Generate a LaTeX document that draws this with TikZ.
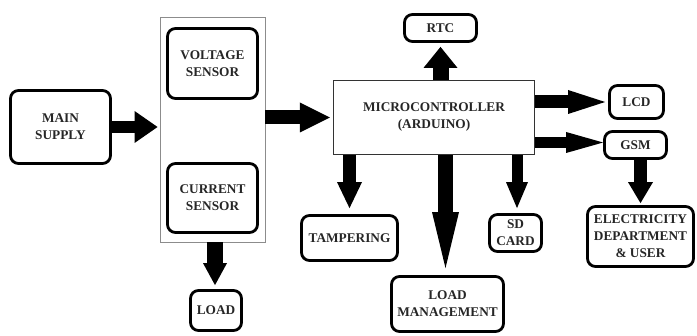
\documentclass[tikz,border=0pt]{standalone}
\usepackage{fontspec}
\setmainfont{Liberation Serif}
\usetikzlibrary{arrows.meta}
\begin{document}
\begin{tikzpicture}[x=1pt,y=-1pt,
  txt/.style={font=\bfseries\fontsize{13.3}{17}\selectfont, text=black!85, align=center, inner sep=0pt},
  rbox/.style={txt, draw=black, line width=2.8pt, rounded corners=8pt},
  mcubox/.style={txt, draw=black!80, line width=1.4pt},
  grpbox/.style={draw=black!45, line width=0.9pt, inner sep=0pt},
  barrow/.style={draw=black, line width=#1},
  tipa/.style n args={2}{-{Triangle[width=#1,length=#2,line width=0pt]}}
]
\useasboundingbox (0,0) rectangle (697,336);
% nodes
\node[rbox, minimum width=100pt, minimum height=73pt] (main) at (60.5,127) {MAIN\\SUPPLY};
\node[grpbox, minimum width=105pt, minimum height=225pt] (grp) at (212.5,129.5) {};
\node[rbox, minimum width=90pt, minimum height=70pt] (volt) at (212.5,63.5) {VOLTAGE\\SENSOR};
\node[rbox, minimum width=90pt, minimum height=69pt] (curr) at (212.5,198) {CURRENT\\SENSOR};
\node[rbox, minimum width=51pt, minimum height=40pt] (load) at (216,310.5) {LOAD};
\node[mcubox, minimum width=201pt, minimum height=74pt] (mcu) at (434,117.5) {MICROCONTROLLER\\(ARDUINO)};
\node[rbox, minimum width=72pt, minimum height=27pt] (rtc) at (440.5,28) {RTC};
\node[rbox, minimum width=54pt, minimum height=33pt] (lcd) at (636.5,102) {LCD};
\node[rbox, minimum width=62pt, minimum height=27pt] (gsm) at (635.5,145) {GSM};
\node[rbox, minimum width=106pt, minimum height=60pt] (elec) at (640.5,236.5) {ELECTRICITY\\DEPARTMENT\\\& USER};
\node[rbox, minimum width=96pt, minimum height=45pt] (tamp) at (349.5,238) {TAMPERING};
\node[rbox, minimum width=112pt, minimum height=55pt] (lm) at (447.5,304) {LOAD\\MANAGEMENT};
\node[rbox, minimum width=52pt, minimum height=37pt] (sd) at (515.5,233) {SD\\CARD};
% block arrows
\draw[barrow=12pt, tipa={32pt}{23pt}, shorten >=2pt] (main.east) -- (main.east -| grp.west);
\draw[barrow=14pt, tipa={30pt}{30pt}, shorten >=3pt] (grp.east |- mcu.west) -- (mcu.west);
\draw[barrow=16pt, tipa={34pt}{21pt}, shorten >=4pt] (rtc.south |- mcu.north) -- (rtc.south);
\draw[barrow=13pt, tipa={24pt}{37pt}, shorten >=3pt] (mcu.east |- lcd.west) -- (lcd.west);
\draw[barrow=11pt, tipa={21pt}{37pt}, shorten >=0pt] ([yshift=2.5pt]mcu.east |- gsm.west) -- ([yshift=2.5pt]gsm.west);
\draw[barrow=13pt, tipa={25pt}{21pt}, shorten >=2pt] (gsm.south -| elec.north) -- (elec.north);
\draw[barrow=13pt, tipa={25pt}{26pt}, shorten >=6pt] (tamp.north |- mcu.south) -- (tamp.north);
\draw[barrow=15pt, tipa={27pt}{56pt}, shorten >=7pt] ([xshift=-2pt]lm.north |- mcu.south) -- ([xshift=-2pt]lm.north);
\draw[barrow=11pt, tipa={22pt}{26pt}, shorten >=5pt] ([xshift=1.5pt]sd.north |- mcu.south) -- ([xshift=1.5pt]sd.north);
\draw[barrow=16pt, tipa={24pt}{22pt}, shorten >=4pt] ([xshift=-1pt]load.north |- grp.south) -- ([xshift=-1pt]load.north);
\end{tikzpicture}
\end{document}
